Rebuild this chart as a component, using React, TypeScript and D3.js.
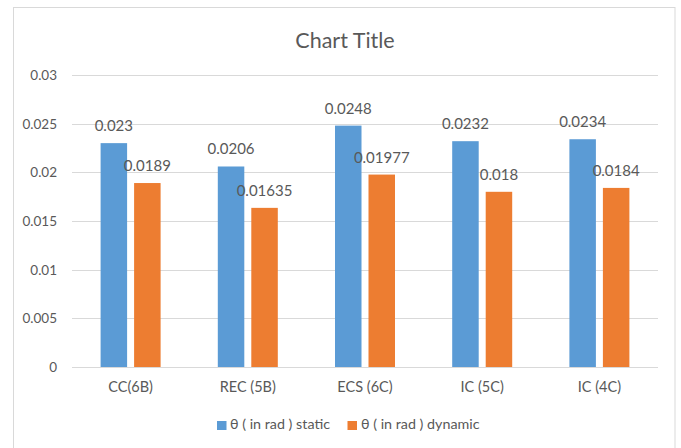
import React from "react";
import * as d3 from "d3";

const categories = ["CC(6B)", "REC (5B)", "ECS (6C)", "IC (5C)", "IC (4C)"];
const staticValues = [0.023, 0.0206, 0.0248, 0.0232, 0.0234];
const dynamicValues = [0.0189, 0.01635, 0.01977, 0.018, 0.0184];
const staticLabels = ["0.023", "0.0206", "0.0248", "0.0232", "0.0234"];
const dynamicLabels = ["0.0189", "0.01635", "0.01977", "0.018", "0.0184"];
const yTicks = [0, 0.005, 0.01, 0.015, 0.02, 0.025, 0.03];
const yTickLabels = ["0", "0.005", "0.01", "0.015", "0.02", "0.025", "0.03"];
const seriesNames = ["θ ( in rad ) static", "θ ( in rad ) dynamic"];

const W = 681;
const H = 448;
const FONT = "Lato, 'Open Sans', sans-serif";
const TEXT = "#595959";
const COLORS = ["#5B9BD5", "#ED7D31"];

export default function App() {
  const x0 = d3.scaleBand<string>().domain(categories).range([72, 658]).paddingInner(0).paddingOuter(0);
  const y = d3.scaleLinear().domain([0, 0.03]).range([367, 75]);
  const bw = 26.5;
  const gap = 7;
  const series = [staticValues, dynamicValues];
  const labels = [staticLabels, dynamicLabels];

  return (
    <svg
      width={W}
      height={H}
      style={{ position: "fixed", left: 0, top: 0, background: "#fff" }}
      fontFamily={FONT}
    >
      <rect x={0} y={0} width={W} height={H} fill="#fff" />
      <rect x={13.5} y={7.5} width={661.5} height={445} fill="#fff" stroke="#D9D9D9" strokeWidth={1} />
      <text x={345} y={48} textAnchor="middle" fontSize={21.5} fill={TEXT}>
        Chart Title
      </text>
      {yTicks.map((t, i) => (
        <g key={"t" + i}>
          <line
            x1={72}
            x2={658}
            y1={Math.round(y(t)) + 0.5}
            y2={Math.round(y(t)) + 0.5}
            stroke="#D9D9D9"
            strokeWidth={1}
          />
          <text x={57} y={y(t) + 5} textAnchor="end" fontSize={13.5} fill={TEXT}>
            {yTickLabels[i]}
          </text>
        </g>
      ))}
      {categories.map((c, ci) => {
        const center = (x0(c) as number) + x0.bandwidth() / 2;
        return (
          <g key={c}>
            {series.map((vals, si) => {
              const bx = center - gap / 2 - bw + si * (bw + gap);
              const top = y(vals[ci]);
              return (
                <g key={si}>
                  <rect x={bx} y={top} width={bw} height={y(0) - top} fill={COLORS[si]} />
                  <text
                    x={bx + bw / 2}
                    y={top - 12}
                    textAnchor="middle"
                    fontSize={15}
                    fill={TEXT}
                  >
                    {labels[si][ci]}
                  </text>
                </g>
              );
            })}
            <text x={center} y={392} textAnchor="middle" fontSize={14.5} fill={TEXT}>
              {c}
            </text>
          </g>
        );
      })}
      <g>
        <rect x={217} y={421} width={9.5} height={9} fill={COLORS[0]} />
        <text x={230} y={429} fontSize={14.3} fill={TEXT}>
          {seriesNames[0]}
        </text>
        <rect x={347.5} y={421} width={9.5} height={9} fill={COLORS[1]} />
        <text x={361} y={429} fontSize={14.3} fill={TEXT}>
          {seriesNames[1]}
        </text>
      </g>
    </svg>
  );
}
